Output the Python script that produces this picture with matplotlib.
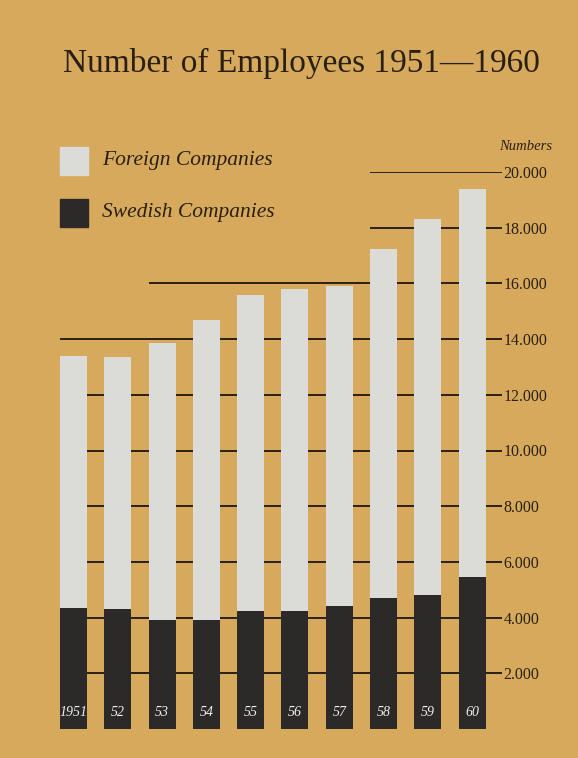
import matplotlib
import matplotlib.pyplot as plt

matplotlib.use("Agg")

BG = "#d7a95d"
LIGHT = "#dbdbd8"
DARK = "#2b2a28"
INK = "#2a2012"

plt.rcParams["font.family"] = ["Liberation Serif", "DejaVu Serif"]

years = ["1951", "52", "53", "54", "55", "56", "57", "58", "59", "60"]
total = [13400, 13350, 13850, 14700, 15600, 15800, 15900, 17250, 18300, 19400]
swedish = [4350, 4300, 3900, 3900, 4250, 4250, 4400, 4700, 4800, 5450]
foreign = [t - s for t, s in zip(total, swedish)]
tick_values = [2000, 4000, 6000, 8000, 10000, 12000, 14000, 16000, 18000, 20000]
tick_labels = ["2.000", "4.000", "6.000", "8.000", "10.000",
               "12.000", "14.000", "16.000", "18.000", "20.000"]

W, H = 578, 758
fig = plt.figure(figsize=(W / 100, H / 100), dpi=100)
fig.patch.set_facecolor(BG)

# axes placed in pixel units: bar 0 centred at 73.5px, pitch 44.3px; y=0 at 27px from bottom
left_px, right_px = 51.3, 502.0
bottom_px, top_px = 29.0, 586.0
ax = fig.add_axes([left_px / W, bottom_px / H, (right_px - left_px) / W, (top_px - bottom_px) / H])
ax.set_facecolor("none")
ax.set_xlim(-0.5, (right_px - 73.5) / 44.3)
ax.set_ylim(0, 20000)

x = list(range(len(years)))
bw = 0.61

# gridlines start at the left edge of a given bar
start_bar = {20000: 7, 18000: 7, 16000: 2}
for v in tick_values:
    i0 = start_bar.get(v, 0)
    ax.hlines(v, i0 - bw / 2, ax.get_xlim()[1], color=INK, lw=1.4, zorder=1)

ax.bar(x, swedish, width=bw, color=DARK, zorder=3)
ax.bar(x, foreign, width=bw, bottom=swedish, color=LIGHT, zorder=3)

for xi, lab in zip(x, years):
    ax.text(xi, 580, lab, ha="center", va="center", color="#f0f0ec",
            fontsize=10, fontstyle="italic", zorder=4)

ax.yaxis.tick_right()
ax.set_yticks(tick_values)
ax.set_yticklabels(tick_labels)
ax.tick_params(axis="y", length=0, pad=1, labelsize=11.5, labelcolor=INK)
ax.set_xticks([])
for s in ax.spines.values():
    s.set_visible(False)

fig.text(552 / W, 1 - 147 / H, "Numbers", ha="right", va="center",
         fontsize=10.5, fontstyle="italic", color=INK)

# title and legend
fig.text(301 / W, 1 - 63 / H, "Number of Employees 1951\u20141960",
         ha="center", va="center", fontsize=24, color=INK)

for yc, col, lab in [(161, LIGHT, "Foreign Companies"), (213, DARK, "Swedish Companies")]:
    fig.patches.append(plt.Rectangle((60 / W, 1 - (yc + 14) / H), 28 / W, 28 / H,
                                     transform=fig.transFigure, color=col))
    fig.text(102 / W, 1 - yc / H, lab, ha="left", va="center", fontsize=15.5,
             fontstyle="italic", color=INK)

fig.savefig("out.png", dpi=100, facecolor=BG)
